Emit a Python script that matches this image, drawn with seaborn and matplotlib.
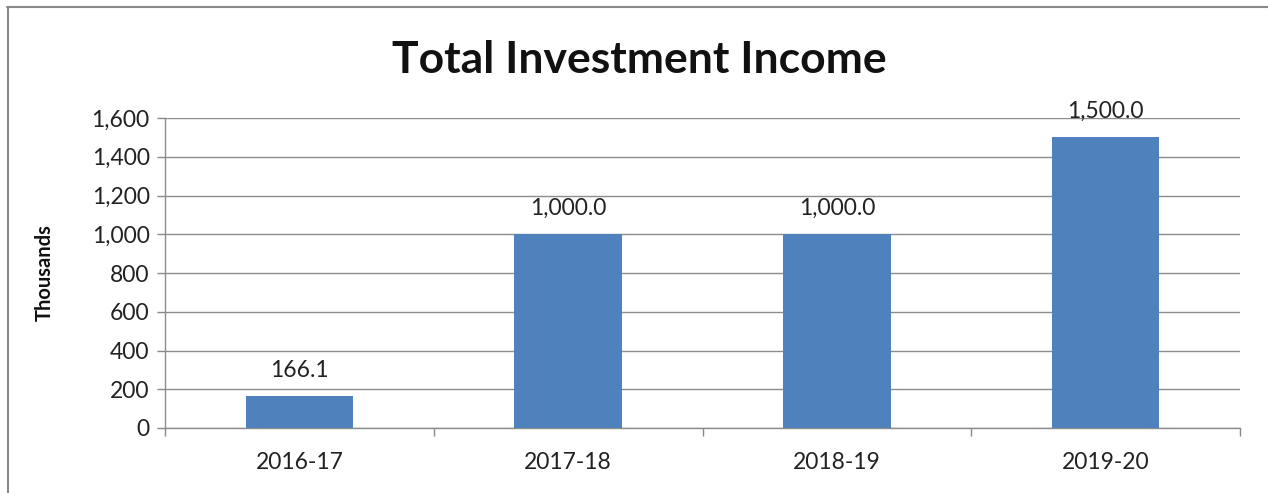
import matplotlib
matplotlib.use("Agg")
import matplotlib.pyplot as plt
import matplotlib.lines as mlines
import seaborn as sns
import pandas as pd

years = ["2016-17", "2017-18", "2018-19", "2019-20"]
income = [166.1, 1000.0, 1000.0, 1500.0]
yticks = [0, 200, 400, 600, 800, 1000, 1200, 1400, 1600]

sns.set_theme(style="white")
plt.rcParams["font.family"] = ["Lato", "DejaVu Sans"]

df = pd.DataFrame({"year": years, "income": income})

fig = plt.figure(figsize=(12.68, 4.93), dpi=100)
ax = fig.add_axes([165 / 1268, 65 / 493, 1075 / 1268, 310 / 493])

bar_color = "#4F81BD"
sns.barplot(data=df, x="year", y="income", color=bar_color, width=0.4,
            saturation=1, linewidth=0, ax=ax, zorder=3)

ax.set_ylim(0, 1600)
ax.set_xlim(-0.5, len(years) - 0.5)
ax.set_yticks(yticks)
ax.set_yticklabels([f"{v:,}" for v in yticks], fontsize=16.5, color="#222222")
ax.tick_params(axis="x", labelsize=16.5, labelcolor="#222222", length=0, pad=17)
ax.set_xticks([i - 0.5 for i in range(len(years) + 1)], minor=True)
ax.tick_params(axis="x", which="minor", length=6, width=1, color="#888888",
               direction="out", bottom=True)
ax.tick_params(axis="y", length=6, width=1, color="#888888", direction="out",
               left=True, pad=5)

ax.yaxis.grid(True, color="#8c8c8c", linewidth=1)
ax.set_axisbelow(True)
for side in ["top", "right"]:
    ax.spines[side].set_visible(False)
for side in ["left", "bottom"]:
    ax.spines[side].set_color("#8c8c8c")
    ax.spines[side].set_linewidth(1)

ax.set_xlabel("")
ax.set_ylabel("Thousands", fontsize=14.5, fontweight="bold", color="#111111")
ax.yaxis.set_label_coords((55 - 165) / 1075, 0.5)

for i, v in enumerate(income):
    ax.annotate(f"{v:,.1f}", (i, v), xytext=(0, 11), textcoords="offset points",
                ha="center", va="bottom", fontsize=16.5, color="#222222")

fig.text(0.5 + 5 / 1268, 1 - 60 / 493, "Total Investment Income", ha="center",
         va="center", fontsize=32, fontweight="bold", color="#111111")

# frame lines along the top and left of the figure
fig.add_artist(mlines.Line2D([7 / 1268, 1], [1 - 7 / 493, 1 - 7 / 493],
                             transform=fig.transFigure, color="#8a8a8a", lw=1.5))
fig.add_artist(mlines.Line2D([7.5 / 1268, 7.5 / 1268], [0, 1 - 7 / 493],
                             transform=fig.transFigure, color="#8a8a8a", lw=1.5))

fig.savefig("out.png", dpi=100, facecolor="white")
